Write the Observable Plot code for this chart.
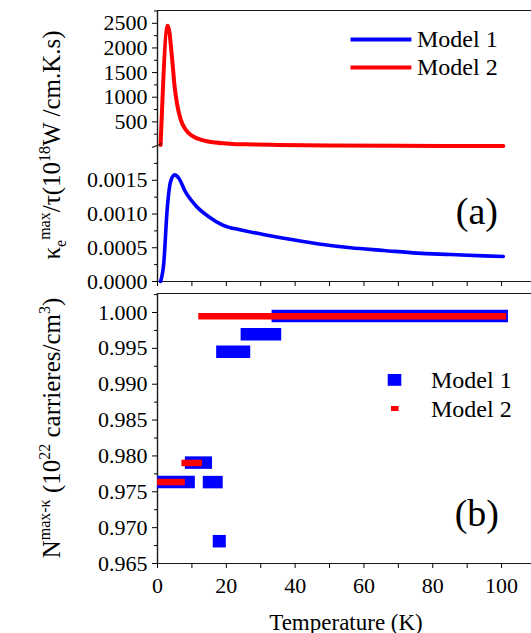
<!DOCTYPE html>
<html><head><meta charset="utf-8">
<script src="https://cdn.jsdelivr.net/npm/d3@7"></script>
<script src="https://cdn.jsdelivr.net/npm/@observablehq/plot@0.6"></script>
<style>
body{margin:0;background:#fff;}
#chart{position:relative;width:531px;height:633px;overflow:hidden;background:#fff;}
#chart svg{position:absolute;left:0;overflow:visible;}
</style></head><body><div id="chart"></div>
<script>
// ---- data ----
const seriesNames = ["Model 1", "Model 2"];
const seriesColors = ["#0000ff", "#ff0000"];

// panel (a), Model 1 (lower, small scale)
const tempM1 = [0.9, 1.8, 2.8, 3.8, 5.0, 6.2, 8.1, 11.0, 14.9, 18.8, 24.6, 30.4, 36.7, 46.4, 56.1, 65.8, 75.5, 85.2, 94.9, 100.5];
const kappaM1 = [0, 0.00026, 0.00106, 0.00148, 0.00158, 0.00153, 0.00133, 0.00113, 0.00096, 0.00084, 0.00076, 0.00070, 0.00064, 0.00056, 0.00050, 0.00046, 0.00042, 0.00040, 0.00038, 0.00037];

// panel (a), Model 2 (upper, large scale)
const tempM2 = [0.9, 3.0, 4.3, 5.0, 5.7, 6.7, 8.1, 10.1, 13.0, 16.9, 21.7, 25.6, 35, 50, 70, 100.5];
const kappaM2 = [30, 2453, 1741, 1198, 860, 555, 351, 216, 128, 80, 53, 45, 32, 22, 14, 8];

// panel (b): temperature ranges and N values
const nM1From = [33.3, 24.3, 17.2, 8.1, 0.0, 13.3, 16.2];
const nM1To   = [102.0, 36.1, 27.1, 16.0, 11.0, 19.1, 20.0];
const nM1Val  = [0.99951, 0.99698, 0.99453, 0.97907, 0.97635, 0.97635, 0.96811];
const nM2From = [12.0, 7.1, 0.0];
const nM2To   = [101.5, 13.1, 8.1];
const nM2Val  = [0.99947, 0.97902, 0.97636];

// ticks
const xTicksMajor = [0, 20, 40, 60, 80, 100];
const xTicksMinor = [10, 30, 50, 70, 90];
const upperTicks = [500, 1000, 1500, 2000, 2500];
const upperMinor = [250, 750, 1250, 1750, 2250, 2750];
const lowerTicks = [0, 0.0005, 0.0010, 0.0015];
const lowerMinor = [0.00025, 0.00075, 0.00125, 0.00175];
const nTicks = [0.965, 0.970, 0.975, 0.980, 0.985, 0.990, 0.995, 1.000];
const nMinor = [0.9675, 0.9725, 0.9775, 0.9825, 0.9875, 0.9925, 0.9975, 1.0025];

// ---- tables built from arrays ----
const m1 = tempM1.map((t, i) => ({t, k: kappaM1[i]}));
const m2 = tempM2.map((t, i) => ({t, k: kappaM2[i]}));
const n1 = nM1Val.map((v, i) => ({x1: nM1From[i], x2: nM1To[i], y: v}));
const n2 = nM2Val.map((v, i) => ({x1: nM2From[i], x2: nM2To[i], y: v}));

const FONT = '"Liberation Serif", cursive';
const W = 531, ML = 157;
const xDomain = [0, 108.7];
const AX = "#1a1a1a";
const TICKFS = 22;
const style = {fontSize: TICKFS + "px", color: "black", background: "transparent"};
const blank = () => "";
const chart = document.getElementById("chart");

// upper part of (a)
const upTop = 2760;
const p1 = Plot.plot({
  width: W, height: 146, marginTop: 10, marginBottom: 0, marginLeft: ML, marginRight: 0,
  style,
  x: {domain: xDomain, axis: null},
  y: {domain: [0, upTop], axis: null},
  marks: [
    Plot.ruleY([upTop], {stroke: AX, strokeWidth: 1.2}),
    Plot.ruleX([0], {stroke: AX, strokeWidth: 1.4}),
    Plot.axisY({ticks: upperTicks, tickSize: 5, tickPadding: 5, tickFormat: d3.format("d"), fontSize: TICKFS, label: null}),
    Plot.axisY({ticks: upperMinor, tickSize: 3, tickFormat: blank, label: null}),
    Plot.line(m2, {x: "t", y: "k", stroke: seriesColors[1], strokeWidth: 4, curve: "monotone-x"})
  ]
});
p1.style.top = "0px";
chart.appendChild(p1);

// lower part of (a)
const p2 = Plot.plot({
  width: W, height: 147, marginTop: 0, marginBottom: 12, marginLeft: ML, marginRight: 0,
  style,
  x: {domain: xDomain, axis: null},
  y: {domain: [0, 0.002], axis: null},
  marks: [
    Plot.ruleY([0], {stroke: AX, strokeWidth: 1.2}),
    Plot.ruleX([0], {stroke: AX, strokeWidth: 1.4}),
    Plot.axisY({ticks: lowerTicks, tickSize: 5, tickPadding: 5, tickFormat: d3.format(".4f"), fontSize: TICKFS, label: null}),
    Plot.axisY({ticks: lowerMinor, tickSize: 3, tickFormat: blank, label: null}),
    Plot.axisX({ticks: xTicksMajor.concat(xTicksMinor), tickSize: 5, tickFormat: blank, label: null}),
    Plot.line(m1, {x: "t", y: "k", stroke: seriesColors[0], strokeWidth: 3.6, curve: "monotone-x"})
  ]
});
p2.style.top = "146px";
chart.appendChild(p2);

// panel (b)
const nTop = 1.00265;
const p3 = Plot.plot({
  width: W, height: 340, marginTop: 0, marginBottom: 70, marginLeft: ML, marginRight: 0,
  style,
  x: {domain: xDomain, axis: null},
  y: {domain: [0.965, nTop], axis: null},
  marks: [
    Plot.ruleY([nTop], {stroke: AX, strokeWidth: 1.2}),
    Plot.ruleY([0.965], {stroke: AX, strokeWidth: 1.2}),
    Plot.ruleX([0], {stroke: AX, strokeWidth: 1.4}),
    Plot.axisY({ticks: nTicks, tickSize: 5, tickPadding: 5, tickFormat: d3.format(".3f"), fontSize: TICKFS, label: null}),
    Plot.axisY({ticks: nMinor, tickSize: 3, tickFormat: blank, label: null}),
    Plot.axisX({ticks: xTicksMajor, tickSize: 5, tickPadding: 9, tickFormat: d3.format("d"), fontSize: TICKFS, label: null}),
    Plot.axisX({ticks: xTicksMinor, tickSize: 5, tickFormat: blank, label: null}),
    Plot.ruleY(n1, {y: "y", x1: "x1", x2: "x2", stroke: seriesColors[0], strokeWidth: 12.5}),
    Plot.ruleY(n2, {y: "y", x1: "x1", x2: "x2", stroke: seriesColors[1], strokeWidth: 6.5})
  ]
});
p3.style.top = "293px";
chart.appendChild(p3);

// ---- overlay: titles, legends, panel letters ----
const ov = d3.select(chart).append("svg")
  .attr("width", W).attr("height", 633)
  .style("top", "0px").style("pointer-events", "none")
  .attr("fill", "black");

function richText(x, y, parts, size, small) {
  const t = ov.append("text")
    .attr("transform", `translate(${x},${y}) rotate(-90)`)
    .attr("text-anchor", "middle").attr("font-size", size);
  let shift = 0;
  for (const [s, kind] of parts) {
    const target = kind === "sup" ? -10 : kind === "sub" ? 6 : 0;
    t.append("tspan").attr("dy", target - shift)
      .attr("font-size", kind ? small : size).text(s);
    shift = target;
  }
}
richText(60, 145, [["κ"], ["e", "sub"], ["max", "sup"], ["/τ(10"], ["18", "sup"], ["W /cm.K.s)"]], 25, 16);
richText(60, 428, [["N"], ["max-κ", "sup"], [" (10"], ["22", "sup"], [" carrieres/cm"], ["3", "sup"], [")"]], 25, 16);

// legend (a)
[39.6, 67.4].forEach((y, i) => {
  ov.append("line").attr("x1", 350.5).attr("x2", 411.4).attr("y1", y).attr("y2", y)
    .attr("stroke", seriesColors[i]).attr("stroke-width", 4);
  ov.append("text").attr("x", 417).attr("y", y + 7.5).attr("font-size", 24).text(seriesNames[i]);
});
// legend (b)
ov.append("rect").attr("x", 387.7).attr("y", 374).attr("width", 13.6).attr("height", 11.8).attr("fill", seriesColors[0]);
ov.append("rect").attr("x", 391).attr("y", 406).attr("width", 7.6).attr("height", 5).attr("fill", seriesColors[1]);
ov.append("text").attr("x", 431).attr("y", 388).attr("font-size", 24).text(seriesNames[0]);
ov.append("text").attr("x", 431).attr("y", 417).attr("font-size", 24).text(seriesNames[1]);

// panel letters
ov.append("text").attr("x", 498).attr("y", 224).attr("text-anchor", "end").attr("font-size", 38).text("(a)");
ov.append("text").attr("x", 499).attr("y", 526).attr("text-anchor", "end").attr("font-size", 38).text("(b)");

// x axis title
ov.append("text").attr("x", 346).attr("y", 629.5).attr("text-anchor", "middle").attr("font-size", 23).text("Temperature (K)");

// axis break mark
ov.append("line").attr("x1", 152).attr("y1", 147.5).attr("x2", 162).attr("y2", 143.5).attr("stroke", AX).attr("stroke-width", 1.2);

// serif face on every text element
const setFont = el => { el.setAttribute("font-family", FONT); el.style.setProperty("font-family", FONT, "important"); };
chart.querySelectorAll("svg, text, tspan").forEach(setFont);
</script></body></html>
